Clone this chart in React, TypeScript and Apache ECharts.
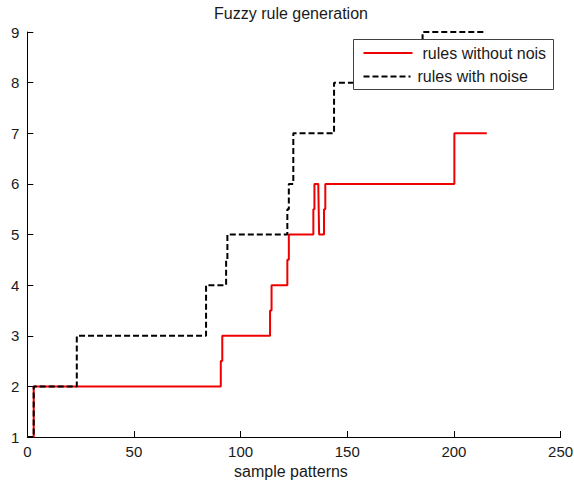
import React, { useEffect, useRef } from "react";
import * as echarts from "echarts";

const titleText = "Fuzzy rule generation";
const xAxisName = "sample patterns";
const seriesNames = ["rules without nois", "rules with noise"];

// rules without noise (red) – step path points
const redX = [0, 3, 3, 90.7, 90.7, 91.4, 91.4, 113.8, 113.8, 114.5, 114.5, 121.9, 121.9, 122.6, 122.6, 134.1, 134.1, 134.6, 134.6, 136.4, 136.8, 139.1, 139.1, 139.7, 139.7, 200.2, 200.2, 215.4];
const redY = [1, 1, 2, 2, 2.5, 2.5, 3, 3, 3.5, 3.5, 4, 4, 4.5, 4.5, 5, 5, 5.5, 5.5, 6, 6, 5, 5, 5.5, 5.5, 6, 6, 7, 7];

// rules with noise (black dashed)
const blackX = [0, 3, 3, 23.2, 23.2, 83.8, 83.8, 93.2, 93.2, 93.8, 93.8, 121.9, 121.9, 122.6, 122.6, 124.7, 124.7, 143.8, 143.8, 185.3, 185.3, 214.6];
const blackY = [1, 1, 2, 2, 3, 3, 4, 4, 4.5, 4.5, 5, 5, 5.5, 5.5, 6, 6, 7, 7, 8, 8, 9, 9];

const xMin = 0, xMax = 250, xStep = 50;
const yMin = 1, yMax = 9, yStep = 1;

const zip = (xs: number[], ys: number[]) => xs.map((x, i) => [x, ys[i]]);

const FONT = "Arial, 'Liberation Sans', Helvetica, sans-serif";
const TXT = "#1a1a1a";

export default function App() {
  const ref = useRef<HTMLDivElement>(null);
  useEffect(() => {
    if (!ref.current) return;
    const chart = echarts.init(ref.current, null, { renderer: "svg" });
    chart.setOption({
      animation: false,
      backgroundColor: "#ffffff",
      title: {
        text: titleText,
        left: 291,
        top: 5,
        padding: 0,
        textAlign: "center",
        textStyle: { fontFamily: FONT, fontSize: 16, fontWeight: "normal", color: TXT },
      },
      grid: { left: 27.3, right: 13.4, top: 32, bottom: 47, containLabel: false, outerBoundsMode: "none" },
      xAxis: {
        type: "value",
        min: xMin,
        max: xMax,
        interval: xStep,
        name: xAxisName,
        nameLocation: "middle",
        nameGap: 26,
        nameTextStyle: { fontFamily: FONT, fontSize: 16, color: TXT, padding: [0, 6, 0, 0] },
        axisLine: { show: true, onZero: false, lineStyle: { color: "#000", width: 1 } },
        axisTick: { show: true, inside: true, length: 6, lineStyle: { color: "#000" } },
        axisLabel: { margin: 7, fontFamily: FONT, fontSize: 15, color: TXT, hideOverlap: false },
        splitLine: { show: false },
      },
      yAxis: {
        type: "value",
        min: yMin,
        max: yMax,
        interval: yStep,
        axisLine: { show: true, onZero: false, lineStyle: { color: "#000", width: 1 } },
        axisTick: { show: true, inside: true, length: 6, lineStyle: { color: "#000" } },
        axisLabel: { margin: 8, fontFamily: FONT, fontSize: 15, color: TXT },
        splitLine: { show: false },
      },
      graphic: [
        {
          type: "rect",
          z: 10,
          shape: { x: 353.5, y: 39.5, width: 200, height: 50 },
          style: { fill: "#ffffff", stroke: "#404040", lineWidth: 1 },
        },
      ],
      legend: [
        {
          data: [seriesNames[0]],
          left: 362.5,
          top: 45,
          padding: 0,
          z: 20,
          itemWidth: 49,
          itemHeight: 16,
          itemStyle: { opacity: 0 },
          textStyle: { fontFamily: FONT, fontSize: 16, color: TXT, padding: [0, 0, 0, 5] },
        },
        {
          data: [seriesNames[1]],
          left: 362.5,
          top: 68.5,
          padding: 0,
          z: 20,
          itemWidth: 47,
          itemHeight: 16,
          itemStyle: { opacity: 0 },
          textStyle: { fontFamily: FONT, fontSize: 16, color: TXT, padding: [0, 0, 0, 2] },
        },
      ],
      series: [
        {
          name: seriesNames[0],
          type: "line",
          data: zip(redX, redY),
          symbol: "none",
          showSymbol: false,
          color: "#ee0000",
          lineStyle: { color: "#ee0000", width: 2 },
          z: 2,
        },
        {
          name: seriesNames[1],
          type: "line",
          data: zip(blackX, blackY),
          symbol: "none",
          showSymbol: false,
          color: "#000000",
          lineStyle: { color: "#000000", width: 2, type: [6, 3] },
          z: 3,
        },
      ],
    });
    return () => chart.dispose();
  }, []);
  return (
    <div
      ref={ref}
      style={{ position: "fixed", left: 0, top: 0, width: 574, height: 484, background: "#fff" }}
    />
  );
}
